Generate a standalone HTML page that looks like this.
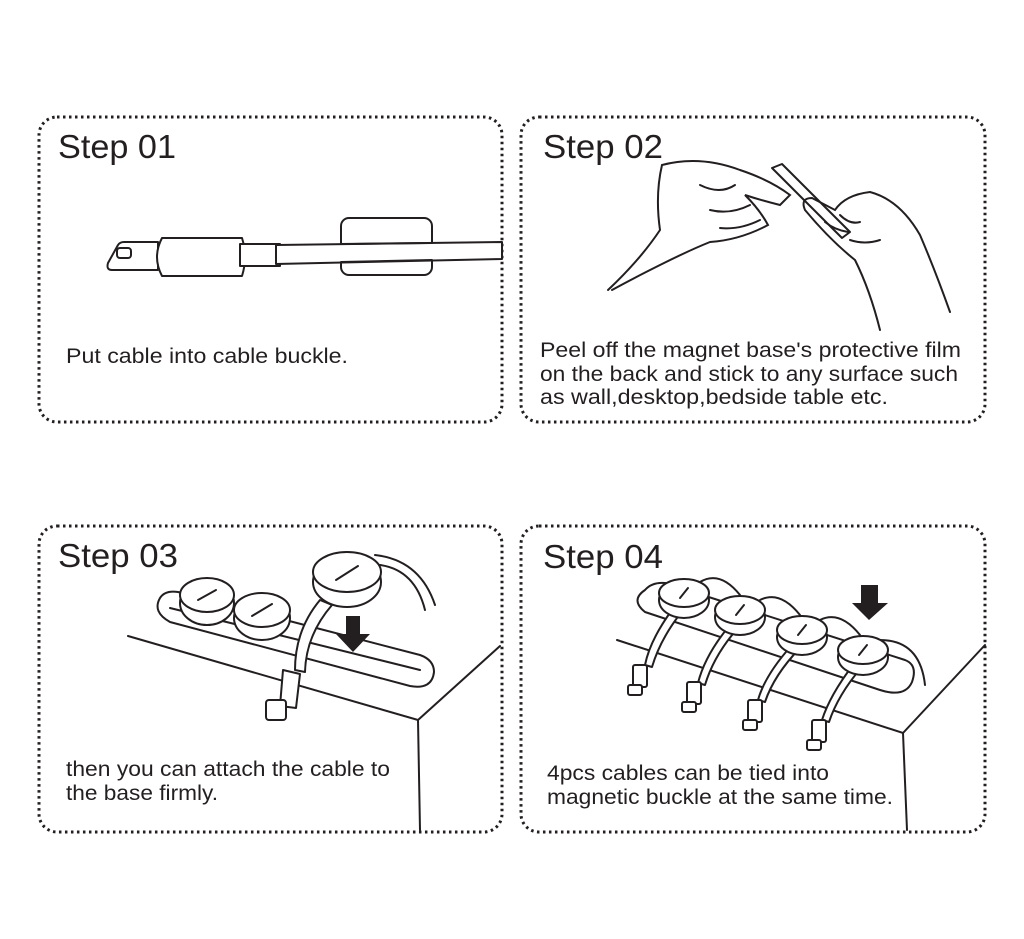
<!DOCTYPE html>
<html><head><meta charset="utf-8"><style>
html,body{margin:0;padding:0;background:#fff;}
svg{display:block}
text{font-family:"Liberation Sans",Arial,sans-serif;fill:#231f20}
.s{font-size:33px}
.b{font-size:21px}
.box{fill:none;stroke:#231f20;stroke-width:3;stroke-dasharray:2.5 3.5;stroke-linecap:butt}
.l{fill:#fff;stroke:#231f20;stroke-width:2;stroke-linejoin:round;stroke-linecap:round}
.n{fill:none;stroke:#231f20;stroke-width:2;stroke-linecap:round}
</style></head><body>
<svg width="1024" height="939" viewBox="0 0 1024 939">
<rect class="box" x="39" y="117" width="463" height="305" rx="18"/>
<rect class="box" x="521" y="117" width="464" height="305" rx="18"/>
<rect class="box" x="39" y="526" width="463" height="306" rx="18"/>
<rect class="box" x="521" y="526" width="464" height="306" rx="18"/>

<text class="s" x="58" y="158" textLength="118" lengthAdjust="spacingAndGlyphs">Step 01</text>
<text class="s" x="543" y="158" textLength="120" lengthAdjust="spacingAndGlyphs">Step 02</text>
<text class="s" x="58" y="567" textLength="120" lengthAdjust="spacingAndGlyphs">Step 03</text>
<text class="s" x="543" y="568" textLength="120" lengthAdjust="spacingAndGlyphs">Step 04</text>

<text class="b" x="66" y="363" textLength="282" lengthAdjust="spacingAndGlyphs">Put cable into cable buckle.</text>
<text class="b" x="540" y="357" textLength="421" lengthAdjust="spacingAndGlyphs">Peel off the magnet base's protective film</text>
<text class="b" x="540" y="381" textLength="418" lengthAdjust="spacingAndGlyphs">on the back and stick to any surface such</text>
<text class="b" x="540" y="404" textLength="348" lengthAdjust="spacingAndGlyphs">as wall,desktop,bedside table etc.</text>
<text class="b" x="66" y="776" textLength="324" lengthAdjust="spacingAndGlyphs">then you can attach the cable to</text>
<text class="b" x="66" y="800" textLength="152" lengthAdjust="spacingAndGlyphs">the base firmly.</text>
<text class="b" x="547" y="780" textLength="282" lengthAdjust="spacingAndGlyphs">4pcs cables can be tied into</text>
<text class="b" x="547" y="804" textLength="346" lengthAdjust="spacingAndGlyphs">magnetic buckle at the same time.</text>

<!-- Step 01 -->
<rect class="l" x="341" y="218" width="91" height="57" rx="8"/>
<path class="l" d="M108 263 L118 245 Q120 242 124 242 L158 242 L158 270 L112 270 Q106 270 108 263Z"/>
<rect class="n" x="117" y="248" width="14" height="10" rx="3"/>
<path class="l" d="M162 238 L242 238 Q248 257 242 276 L162 276 Q152 257 162 238Z"/>
<path class="l" d="M240 244 L280 244 L280 266 L240 266Z"/>
<path class="l" d="M276 245 L502 242 L502 259 L276 264Z"/>
<path class="n" d="M341 244 L432 243 M341 262 L432 260"/>

<!-- Step 02 hands -->
<path class="n" d="M608 290 Q640 260 660 230 Q655 195 662 165 Q700 155 740 170 Q770 180 790 195 L780 205 Q760 200 745 195 Q760 210 768 225 Q740 240 710 242 Q690 250 660 265 Q630 280 612 290"/>
<path class="n" d="M700 185 Q720 195 735 185 M710 210 Q730 215 750 205 M720 228 Q740 230 760 220"/>
<path class="l" d="M772 168 L782 164 L850 232 L842 238Z"/>
<path class="n" d="M950 312 Q935 270 920 235 Q900 200 870 192 Q845 195 835 210 L812 198 Q800 198 805 210 Q830 240 855 260 Q870 290 880 330"/>
<path class="n" d="M840 215 Q850 225 860 222 M850 240 Q865 245 880 240 M825 222 Q835 230 848 232"/>

<!-- Step 03 -->
<path class="n" d="M128 636 L418 720 L500 646 M418 720 L420 830"/>
<path class="l" d="M160 598 Q152 612 170 622 L410 686 Q432 690 434 672 Q434 660 420 655 L178 592 Q165 590 160 598Z"/>
<path class="n" d="M170 608 L420 670"/>
<ellipse class="l" cx="207" cy="603" rx="27" ry="22"/>
<ellipse class="l" cx="207" cy="595" rx="27" ry="17"/>
<path class="n" d="M198 600 L216 590"/>
<ellipse class="l" cx="262" cy="618" rx="28" ry="22"/>
<ellipse class="l" cx="262" cy="610" rx="28" ry="17"/>
<path class="n" d="M252 616 L272 604"/>
<path class="n" d="M375 555 Q420 560 435 605 M380 565 Q415 570 425 610"/>
<path class="l" d="M320 600 Q295 630 295 670 L305 672 Q306 635 332 605Z"/>
<ellipse class="l" cx="347" cy="582" rx="34" ry="25"/>
<ellipse class="l" cx="347" cy="572" rx="34" ry="20"/>
<path class="n" d="M336 580 L358 566"/>
<path class="l" d="M283 670 L300 674 L296 708 L280 706Z"/>
<rect class="l" x="266" y="700" width="20" height="20" rx="3"/>
<path d="M346 616 L360 616 L360 634 L370 634 L353 652 L336 634 L346 634Z" fill="#231f20"/>

<!-- Step 04 -->
<path class="n" d="M617 640 L903 733 L985 645 M903 733 L907 830"/>
<path class="l" d="M645 590 Q630 600 645 612 L880 690 Q905 698 912 682 Q918 665 905 660 L665 583 Q652 582 645 590Z"/>
<path class="n" d="M700 582 Q720 570 740 595 M760 600 Q780 590 800 615 M820 620 Q840 610 860 635 M880 640 Q920 640 925 685"/>
<g>
<path class="l" d="M672 610 Q650 640 645 665 L652 667 Q660 640 680 614Z"/>
<ellipse class="l" cx="684" cy="600" rx="25" ry="18"/><ellipse class="l" cx="684" cy="593" rx="25" ry="14"/><path class="n" d="M680 598 L688 588"/>
<rect class="l" x="633" y="665" width="14" height="22" rx="2"/><rect class="l" x="628" y="685" width="14" height="10" rx="2"/>
</g>
<g>
<path class="l" d="M730 625 Q705 655 698 683 L705 685 Q714 655 738 628Z"/>
<ellipse class="l" cx="740" cy="617" rx="25" ry="18"/><ellipse class="l" cx="740" cy="610" rx="25" ry="14"/><path class="n" d="M736 615 L744 605"/>
<rect class="l" x="687" y="682" width="14" height="22" rx="2"/><rect class="l" x="682" y="702" width="14" height="10" rx="2"/>
</g>
<g>
<path class="l" d="M792 645 Q765 675 758 700 L765 702 Q774 675 800 648Z"/>
<ellipse class="l" cx="802" cy="637" rx="25" ry="18"/><ellipse class="l" cx="802" cy="630" rx="25" ry="14"/><path class="n" d="M798 635 L806 625"/>
<rect class="l" x="748" y="700" width="14" height="22" rx="2"/><rect class="l" x="743" y="720" width="14" height="10" rx="2"/>
</g>
<g>
<path class="l" d="M853 665 Q830 695 822 720 L829 722 Q838 695 861 668Z"/>
<ellipse class="l" cx="863" cy="657" rx="25" ry="18"/><ellipse class="l" cx="863" cy="650" rx="25" ry="14"/><path class="n" d="M859 655 L867 645"/>
<rect class="l" x="812" y="720" width="14" height="22" rx="2"/><rect class="l" x="807" y="740" width="14" height="10" rx="2"/>
</g>
<path d="M861 585 L878 585 L878 603 L888 603 L869 620 L852 603 L861 603Z" fill="#231f20"/>
</svg>
</body></html>
